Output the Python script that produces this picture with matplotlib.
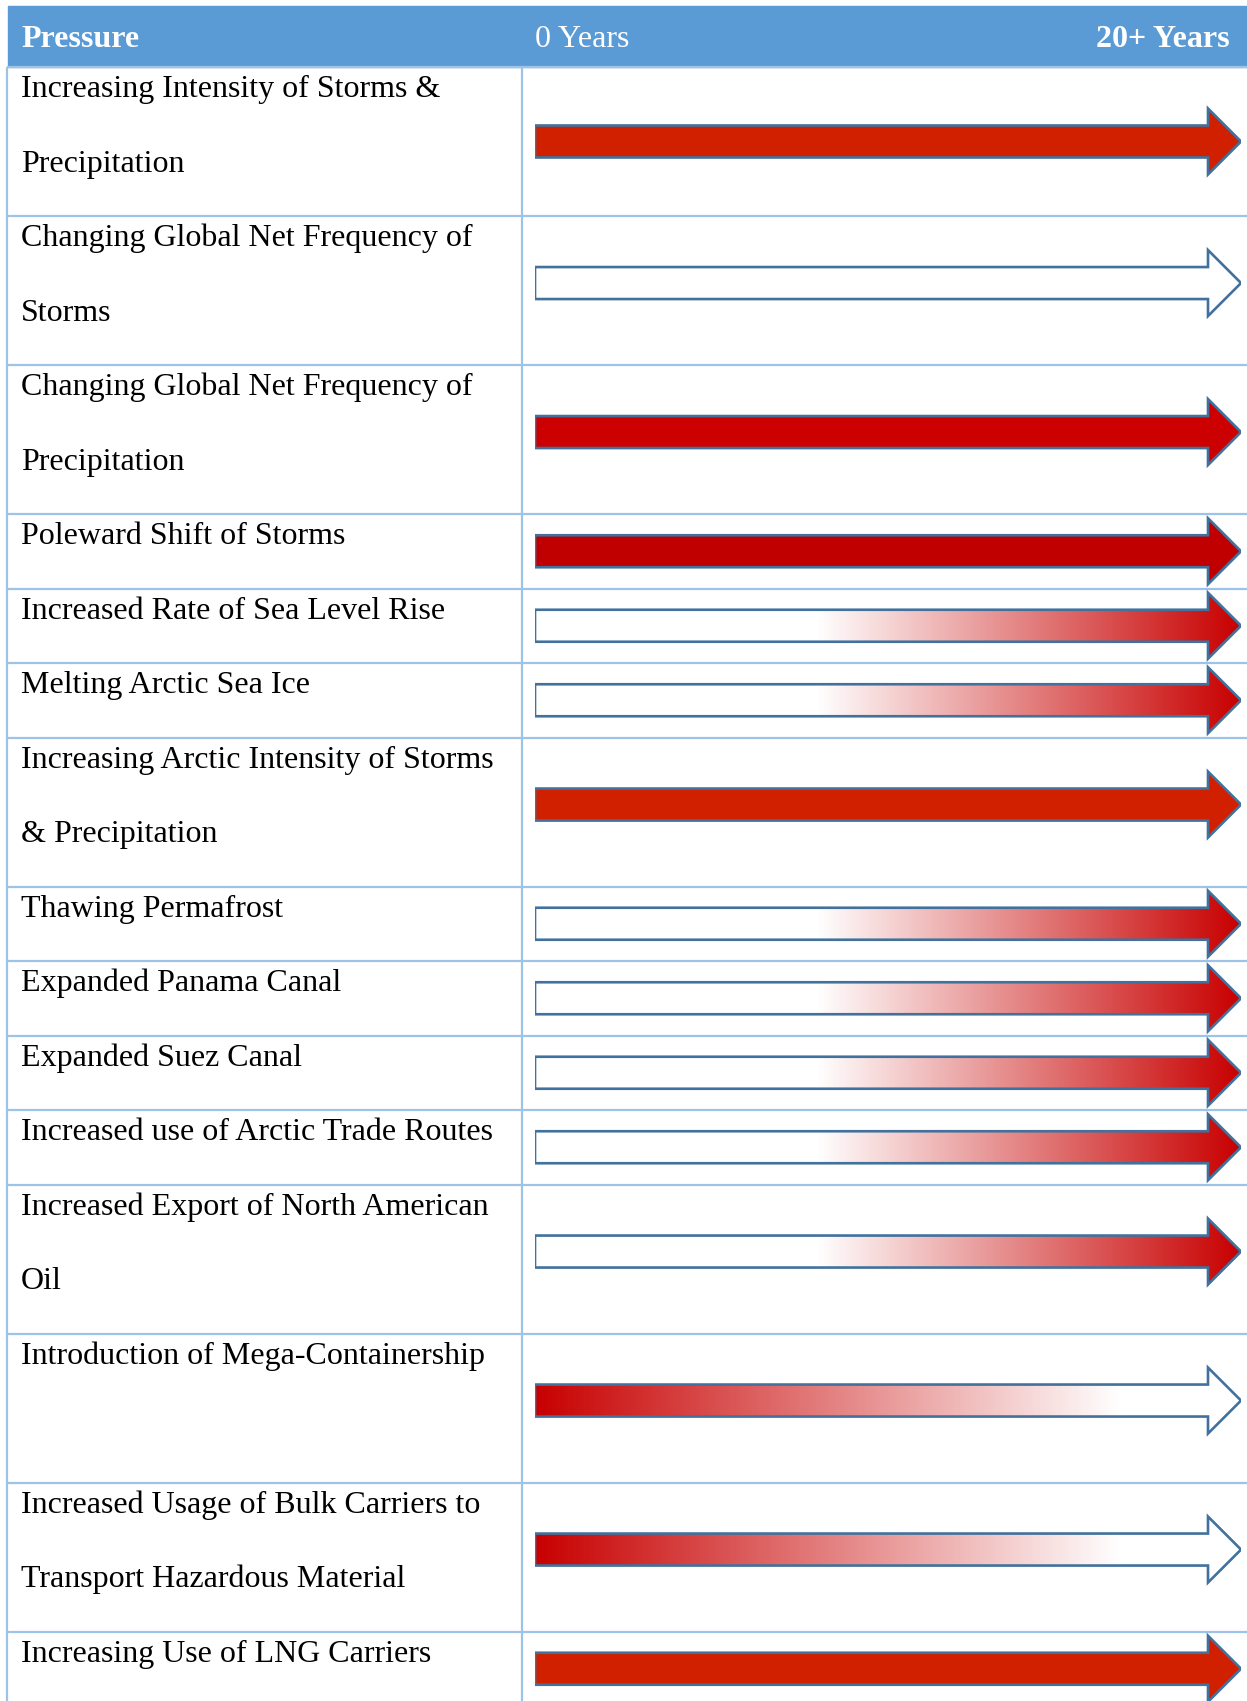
import matplotlib
matplotlib.use("Agg")
import matplotlib.pyplot as plt
import numpy as np
from matplotlib.patches import Polygon, Rectangle
from matplotlib.colors import LinearSegmentedColormap

# данные таблицы
pressures = [
    "Increasing Intensity of Storms &\nPrecipitation",
    "Changing Global Net Frequency of\nStorms",
    "Changing Global Net Frequency of\nPrecipitation",
    "Poleward Shift of Storms",
    "Increased Rate of Sea Level Rise",
    "Melting Arctic Sea Ice",
    "Increasing Arctic Intensity of Storms\n& Precipitation",
    "Thawing Permafrost",
    "Expanded Panama Canal",
    "Expanded Suez Canal",
    "Increased use of Arctic Trade Routes",
    "Increased Export of North American\nOil",
    "Introduction of Mega-Containership",
    "Increased Usage of Bulk Carriers to\nTransport Hazardous Material",
    "Increasing Use of LNG Carriers",
]
# now = уже сейчас, none = нет, rising = растёт со временем, falling = убывает
trend = ["now", "none", "now", "now", "rising", "rising", "now", "rising",
         "rising", "rising", "rising", "rising", "falling", "falling", "now"]
start_years = [0] * 15
end_years = [20] * 15
header = ["Pressure", "0 Years", "20+ Years"]

# высота строки в "строках текста"
row_units = [2, 2, 2, 1, 1, 1, 2, 1, 1, 1, 1, 2, 2, 2, 1]
# цвета сплошных стрелок
solid_colours = ["#D02000", None, "#CC0000", "#C00000", None, None, "#D02000",
                 None, None, None, None, None, None, None, "#D02000"]

W, H, DPI = 1247, 1701, 100
UNIT = 74.5
TOP = 67
FONT = "Liberation Serif"
FS = 23
GRID = "#9DC3E6"
EDGE = "#41719C"

fig = plt.figure(figsize=(W / DPI, H / DPI), dpi=DPI)
ax = fig.add_axes([0, 0, 1, 1])
ylim = ((H - TOP) / UNIT, -TOP / UNIT)

# шапка
ax.add_patch(Rectangle((8, -61 / UNIT), W - 8, 61 / UNIT, color="#5B9BD5", zorder=0))
hy = (47 - TOP) / UNIT
ax.text(21, hy, header[0], color="white", fontsize=FS, fontweight="bold",
        family=FONT, va="baseline", ha="left")
ax.text(535, hy, header[1], color="white", fontsize=FS,
        family=FONT, va="baseline", ha="left")
ax.text(1230, hy, header[2], color="white", fontsize=FS, fontweight="bold",
        family=FONT, va="baseline", ha="right")

tops = np.concatenate([[0], np.cumsum(row_units)[:-1]])
bounds = np.concatenate([tops, [np.sum(row_units)]])

# сетка
ax.hlines(bounds, 7, W, color=GRID, lw=1.6, zorder=1)
ax.vlines([7, 522], 0, ylim[0], color=GRID, lw=1.6, zorder=1)

# подписи
for top, label in zip(tops, pressures):
    for k, line in enumerate(label.split("\n")):
        ax.text(21, top + 30 / UNIT + k, line, fontsize=FS, family=FONT,
                va="baseline", ha="left", color="black")

ax.set_xlim(0, W)
ax.set_ylim(*ylim)
ax.axis("off")

# стрелки
ax2 = fig.add_axes([535 / W, 0, 706 / W, 1])
HEAD_LEN = 33 / 706 * 20
BODY_H = 16 / UNIT
HEAD_H = 33 / UNIT

grow = LinearSegmentedColormap.from_list(
    "grow", [(0, "white"), (0.4, "white"), (1, "#C80000")])
fade = LinearSegmentedColormap.from_list(
    "fade", [(0, "#C80000"), (0.83, "white"), (1, "white")])
grad = np.linspace(0, 1, 256).reshape(1, -1)

for i in range(len(pressures)):
    yc = tops[i] + row_units[i] / 2
    if row_units[i] == 2 and i > 0:
        yc -= 0.1
    x0, x1 = start_years[i], end_years[i]
    xb = x1 - HEAD_LEN
    xy = [(x0, yc - BODY_H), (xb, yc - BODY_H), (xb, yc - HEAD_H), (x1, yc),
          (xb, yc + HEAD_H), (xb, yc + BODY_H), (x0, yc + BODY_H)]
    t = trend[i]
    if t == "now":
        face = solid_colours[i]
    elif t == "none":
        face = "white"
    else:
        face = "none"
    outline = Polygon(xy, closed=True, facecolor=face, edgecolor=EDGE, lw=1.9,
                      joinstyle="miter", zorder=2)
    ax2.add_patch(outline)
    if t in ("rising", "falling"):
        im = ax2.imshow(grad, cmap=grow if t == "rising" else fade,
                        extent=[x0, x1, yc + HEAD_H, yc - HEAD_H], aspect="auto",
                        interpolation="bilinear", zorder=1)
        im.set_clip_path(outline)

ax2.set_xlim(0, 20)
ax2.set_ylim(*ylim)
ax2.axis("off")

fig.savefig("out.png", dpi=DPI)
